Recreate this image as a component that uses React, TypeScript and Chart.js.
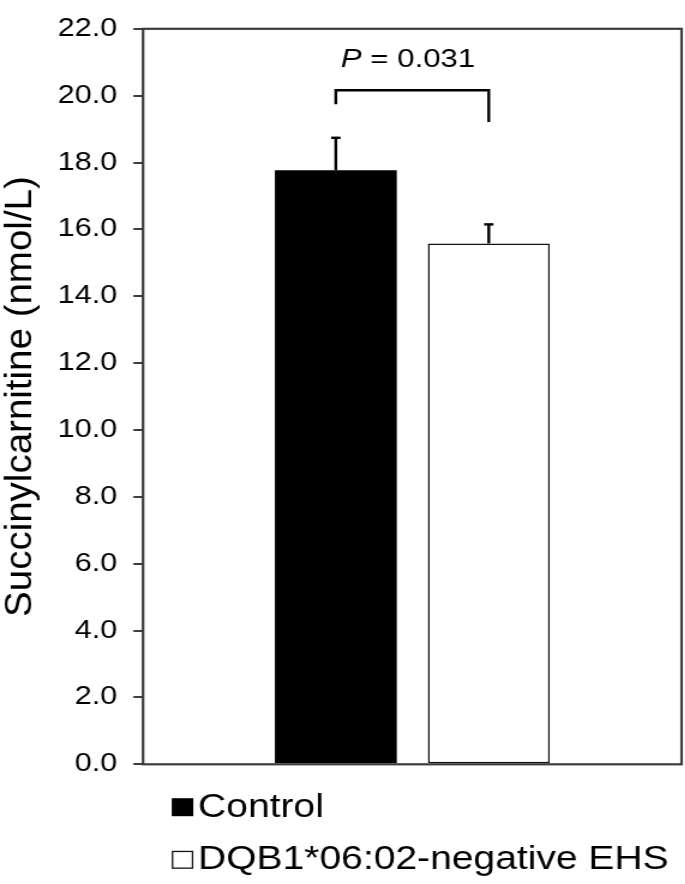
import React, { useEffect, useRef } from 'react';
import { Chart, registerables } from 'chart.js';

Chart.register(...registerables);

// ---- data ----
const categories = ['Succinylcarnitine'];
const seriesLabels = ['Control', 'DQB1*06:02-negative EHS'];
const seriesMeans = [17.77, 15.58];
const seriesErrors = [0.97, 0.57];
const seriesFill = ['#000000', '#ffffff'];
const yMin = 0;
const yMax = 22;
const yStep = 2;
const yTitle = 'Succinylcarnitine (nmol/L)';
const pLabelItalic = 'P';
const pLabelRest = ' = 0.031';
const bracketTopValue = 20.16;
const bracketLegEnds = [19.74, 19.21];

// ---- styling ----
const FONT = "'Liberation Sans', Arial, Helvetica, sans-serif";
const CANVAS_W = 570;
const CANVAS_H = 884;
const SX = 1.2; // horizontal stretch of the reference figure

const annotatePlugin = {
  id: 'annotate',
  afterDatasetsDraw(chart: any) {
    const { ctx, chartArea: a, scales } = chart;
    const y = scales.y;
    ctx.save();
    // error bars
    ctx.strokeStyle = '#000';
    ctx.lineWidth = 2.4;
    ctx.lineCap = 'butt';
    chart.data.datasets.forEach((_ds: any, i: number) => {
      const el = chart.getDatasetMeta(i).data[0];
      const top = y.getPixelForValue(seriesMeans[i] + seriesErrors[i]);
      ctx.beginPath();
      ctx.moveTo(el.x, el.y);
      ctx.lineTo(el.x, top);
      ctx.stroke();
      ctx.beginPath();
      ctx.moveTo(el.x - 3.9, top);
      ctx.lineTo(el.x + 3.9, top);
      ctx.stroke();
    });
    // plot box
    ctx.strokeStyle = '#3c3c3c';
    ctx.lineWidth = 2.2;
    ctx.strokeRect(a.left, a.top, a.right - a.left, a.bottom - a.top);
    // significance bracket
    const x0 = chart.getDatasetMeta(0).data[0].x;
    const x1 = chart.getDatasetMeta(1).data[0].x;
    const bt = y.getPixelForValue(bracketTopValue);
    ctx.strokeStyle = '#000';
    ctx.lineWidth = 2.4;
    ctx.lineJoin = 'miter';
    ctx.beginPath();
    ctx.moveTo(x0, y.getPixelForValue(bracketLegEnds[0]));
    ctx.lineTo(x0, bt);
    ctx.lineTo(x1, bt);
    ctx.lineTo(x1, y.getPixelForValue(bracketLegEnds[1]));
    ctx.stroke();
    // P label
    ctx.fillStyle = '#000';
    ctx.textBaseline = 'alphabetic';
    ctx.textAlign = 'left';
    ctx.font = `italic 26px ${FONT}`;
    const wP = ctx.measureText(pLabelItalic).width;
    ctx.font = `26px ${FONT}`;
    const wR = ctx.measureText(pLabelRest).width;
    const cx = (x0 + x1) / 2 - 3.6;
    const base = bt - 23.4;
    const sx = cx - (wP + wR) / 2;
    ctx.font = `italic 26px ${FONT}`;
    ctx.fillText(pLabelItalic, sx, base);
    ctx.font = `26px ${FONT}`;
    ctx.fillText(pLabelRest, sx + wP, base);
    ctx.restore();
  },
  afterDraw(chart: any) {
    const { ctx, chartArea: a } = chart;
    ctx.save();
    // y axis title (unstretched in reference)
    ctx.translate(26.4, (a.top + a.bottom) / 2);
    ctx.scale(1 / SX, 1);
    ctx.rotate(-Math.PI / 2);
    ctx.fillStyle = '#000';
    ctx.font = `38.5px ${FONT}`;
    ctx.textAlign = 'center';
    ctx.textBaseline = 'alphabetic';
    ctx.fillText(yTitle, 0, 0);
    ctx.restore();

    // legend
    ctx.save();
    const lx = a.left + 23.9;
    const baselines = [a.bottom + 52.4, a.bottom + 105];
    ctx.font = `32.5px ${FONT}`;
    ctx.textAlign = 'left';
    ctx.textBaseline = 'alphabetic';
    seriesLabels.forEach((lab, i) => {
      const b = baselines[i];
      ctx.fillStyle = seriesFill[i];
      ctx.fillRect(lx, b - 18.5, 18, 18);
      if (i !== 0) {
        ctx.strokeStyle = '#111';
        ctx.lineWidth = 1.3;
        ctx.strokeRect(lx + 0.65, b - 18.5 + 0.65, 16.7, 16.7);
      }
      ctx.fillStyle = '#000';
      ctx.fillText(lab, lx + 22, b);
    });
    ctx.restore();
  },
};

export default function App() {
  const ref = useRef<HTMLCanvasElement>(null);
  useEffect(() => {
    if (!ref.current) return;
    const chart = new Chart(ref.current, {
      type: 'bar',
      data: {
        labels: categories,
        datasets: seriesLabels.map((lab, i) => ({
          label: lab,
          data: [seriesMeans[i]],
          backgroundColor: seriesFill[i],
          borderColor: '#111',
          borderWidth: i === 0 ? 0 : 1.5,
          borderSkipped: false,
          categoryPercentage: 0.568,
          barPercentage: 0.797,
        })),
      },
      options: {
        responsive: false,
        animation: false,
        events: [],
        layout: { padding: { left: 49.2, right: 2, top: 15, bottom: 119.7 } },
        plugins: {
          legend: { display: false },
          tooltip: { enabled: false },
          title: { display: false },
        },
        scales: {
          x: { display: false, grid: { display: false } },
          y: {
            min: yMin,
            max: yMax,
            afterFit: (s: any) => {
              s.width = 70;
            },
            border: { display: false },
            grid: {
              drawOnChartArea: false,
              drawTicks: true,
              tickLength: 8,
              color: '#3c3c3c',
              lineWidth: 2,
            },
            ticks: {
              stepSize: yStep,
              padding: 13.5,
              color: '#000',
              font: { family: FONT, size: 25.5 },
              callback: (v: any) => Number(v).toFixed(1),
            },
          },
        },
      },
      plugins: [annotatePlugin],
    } as any);
    return () => chart.destroy();
  }, []);
  return (
    <canvas
      ref={ref}
      width={CANVAS_W}
      height={CANVAS_H}
      style={{
        position: 'absolute',
        left: 0,
        top: 0,
        width: `${CANVAS_W * SX}px`,
        height: `${CANVAS_H}px`,
      }}
    />
  );
}
